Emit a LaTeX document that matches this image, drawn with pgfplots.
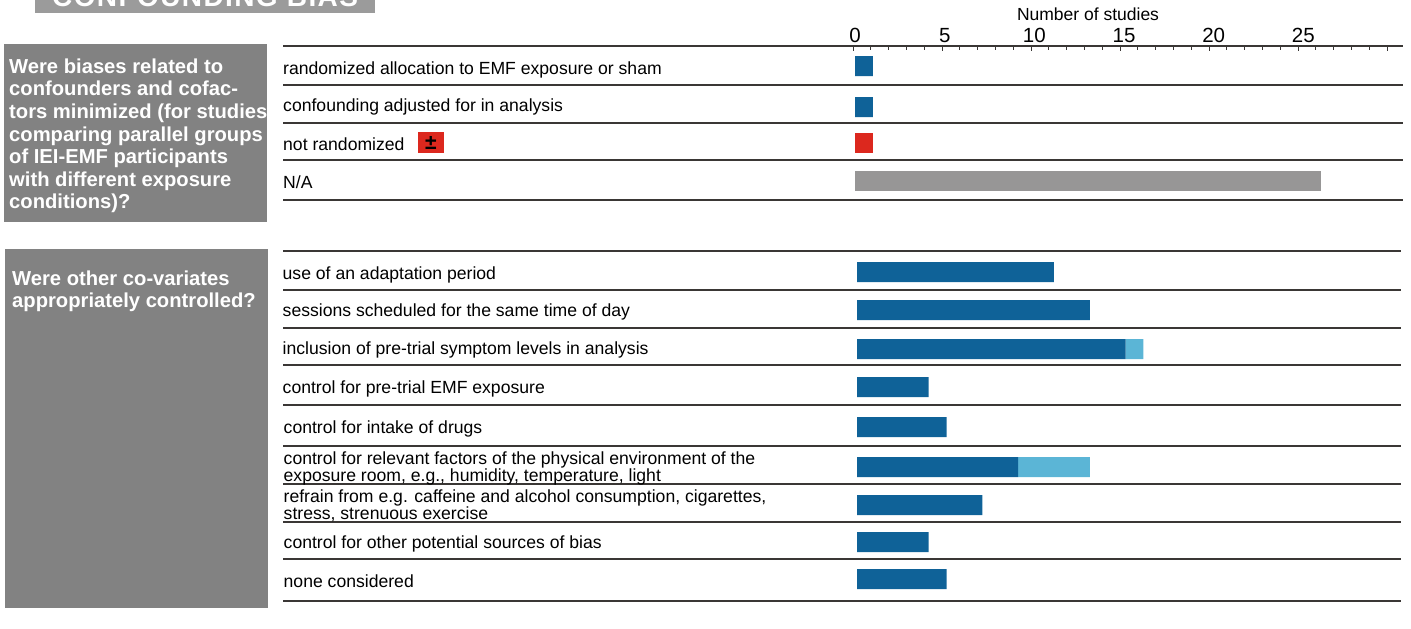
\documentclass[border=0pt]{standalone}
\usepackage{pgfplots}
\usepackage{fontspec}
\setmainfont{Liberation Sans}
\pgfplotsset{compat=1.18}
\definecolor{dblue}{HTML}{0F6298}
\definecolor{lblue}{HTML}{5BB5D6}
\definecolor{bred}{HTML}{DC281E}
\definecolor{bgray}{HTML}{979696}
\definecolor{boxgray}{HTML}{828282}
\definecolor{hdgray}{HTML}{9B9B9B}
\definecolor{rule}{HTML}{3A3735}
\newcommand{\rowfont}{\fontsize{17.6}{18}\selectfont}
\newcommand{\boxfont}{\fontsize{20.2}{22.6}\selectfont\bfseries}
\begin{document}
\begin{tikzpicture}[x=1pt,y=-1pt]
\path[use as bounding box] (0,0) rectangle (1411,629);
\begin{scope}
\clip (0,0) rectangle (1411,629);
\fill[hdgray] (35,-5) rectangle (375,12.5);
\node[anchor=base west,inner sep=0,text=white] at (52,6) {\fontsize{28}{28}\selectfont\bfseries\addfontfeature{LetterSpace=5}CONFOUNDING BIAS};
\end{scope}
\fill[boxgray] (4,44) rectangle (267,222);
\fill[boxgray] (5,249) rectangle (268,608);
\node[anchor=north west,inner sep=0,text=white,align=left,font=\boxfont] at (9,58.5) {Were biases related to\\ confounders and cofac-\\ tors minimized (for studies\\ comparing parallel groups\\ of IEI-EMF participants\\ with different exposure\\ conditions)?};
\node[anchor=north west,inner sep=0,text=white,align=left,font=\boxfont] at (12,270.5) {Were other co-variates\\ appropriately controlled?};
% rules and ticks, top group
\begin{axis}[at={(283pt,-46pt)},anchor=north west,scale only axis,width=1120pt,height=155pt,
  y dir=reverse,xmin=-32.02,xmax=30.9,ymin=46,ymax=201,
  axis line style={draw=none},
  xtick={0,5,...,30},minor xtick={0,1,...,30},xtick pos=upper,xtick align=inside,
  xticklabels={},major tick length=5pt,minor tick length=3.5pt,
  tick style={rule,line width=0.9pt},
  ytick={46,85,123,160,200},yticklabels={},ymajorgrids,ytick style={draw=none},
  grid style={rule,line width=1.4pt},
  clip=false]
\addplot[draw=none] coordinates {(0,100)};
\end{axis}
% bars and tick labels, top group
\begin{axis}[at={(283pt,-46pt)},anchor=north west,scale only axis,width=1120pt,height=155pt,
  y dir=reverse,xmin=-31.9,xmax=30.56,ymin=46,ymax=201,
  axis line style={draw=none},
  xbar,bar width=20pt,
  xtick={0,5,...,25},xticklabel pos=upper,xtick style={draw=none},
  xticklabel style={font=\fontsize{20.5}{21}\selectfont,yshift=0pt},
  /pgf/number format/assume math mode=true,
  ytick=\empty]
\addplot[bar shift=0pt,draw=none,fill=dblue] coordinates {(1,66) (1,107)};
\addplot[bar shift=0pt,draw=none,fill=bred] coordinates {(1,143)};
\addplot[bar shift=0pt,draw=none,fill=bgray] coordinates {(26,181)};
\end{axis}
% lower group
\begin{axis}[at={(283pt,-251pt)},anchor=north west,scale only axis,width=1118pt,height=350pt,
  y dir=reverse,xmin=-32.07,xmax=30.39,ymin=251,ymax=601,
  axis line style={draw=none},
  xbar stacked,bar width=20pt,
  xtick=\empty,
  ytick={251,290,328,365,405,446,484,522,559,601},yticklabels={},ymajorgrids,ytick style={draw=none},
  grid style={rule,line width=1.4pt}]
\addplot[draw=none,fill=dblue] coordinates {(11,272) (13,310) (15,349) (4,387) (5,427) (9,467) (7,505) (4,542) (5,579)};
\addplot[draw=none,fill=lblue] coordinates {(0,272) (0,310) (1,349) (0,387) (0,427) (4,467) (0,505) (0,542) (0,579)};
\end{axis}
\node[anchor=base,inner sep=0] at (1088,20) {\fontsize{17.5}{18}\selectfont Number of studies};
\foreach \yy/\tt in {74/randomized allocation to EMF exposure or sham,111/confounding adjusted for in analysis,150/not randomized,188/{N/A}}
  \node[anchor=base west,inner sep=0] at (283,\yy) {\rowfont \tt};
\fill[bred] (418,132) rectangle (444,153);
\node[anchor=base,inner sep=0] at (431,149) {\fontsize{21}{21}\selectfont\bfseries ±};
\foreach \xx/\yy/\tt in {282.5/279/use of an adaptation period,282.5/316/sessions scheduled for the same time of day,282.5/354/inclusion of pre-trial symptom levels in analysis,282.5/393/control for pre-trial EMF exposure,283.5/433/control for intake of drugs,283.5/464/control for relevant factors of the physical environment of the,283.5/481/{exposure room, e.g., humidity, temperature, light},283.5/502/{refrain from e.g. caffeine and alcohol consumption, cigarettes,},283.5/519/{stress, strenuous exercise},283.5/548/control for other potential sources of bias,283.5/587/none considered}
  \node[anchor=base west,inner sep=0] at (\xx,\yy) {\rowfont \tt};
\end{tikzpicture}
\end{document}
